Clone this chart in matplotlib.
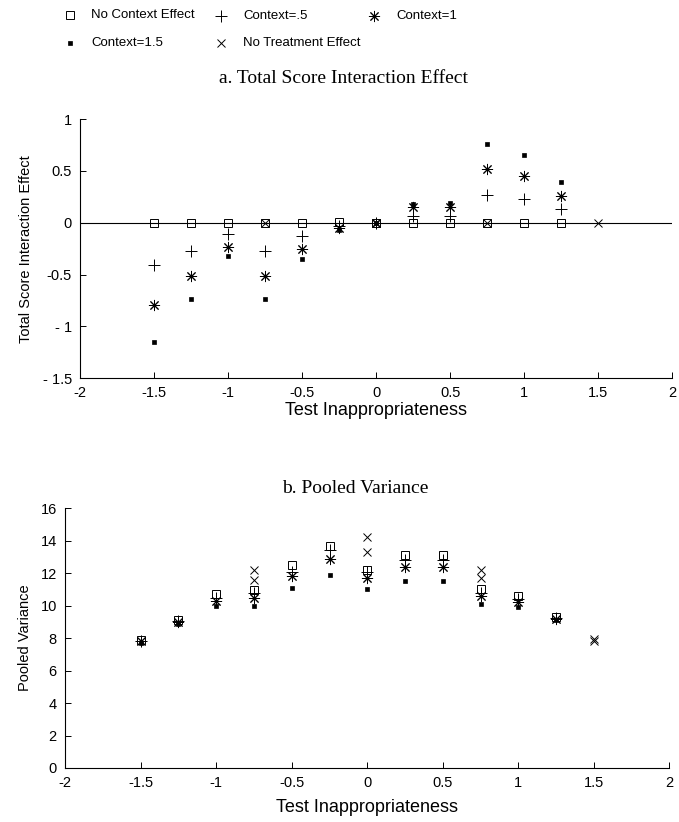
import matplotlib
matplotlib.use("Agg")
import matplotlib.pyplot as plt
from matplotlib.lines import Line2D
import numpy as np

plt.rcParams['font.family'] = ['Liberation Sans', 'DejaVu Sans']
plt.rcParams['axes.unicode_minus'] = False

# valores
test_x = [-1.5, -1.25, -1, -0.75, -0.5, -0.25, 0, 0.25, 0.5, 0.75, 1, 1.25]

# a. Total Score Interaction Effect
noctx_a = [0, 0, 0, 0, 0, 0.01, 0, 0, 0, 0, 0, 0]
ctx05_a = [-0.41, -0.27, -0.11, -0.27, -0.13, -0.03, 0, 0.07, 0.07, 0.27, 0.23, 0.13]
ctx1_a = [-0.79, -0.51, -0.23, -0.51, -0.25, -0.05, 0, 0.15, 0.15, 0.52, 0.45, 0.26]
ctx15_a = [-1.15, -0.74, -0.32, -0.74, -0.35, -0.07, 0, 0.18, 0.19, 0.76, 0.65, 0.39]
notreat_xa = [-0.75, 0, 0.75, 1.5]
notreat_a = [0, 0, 0, 0]

# b. Pooled Variance
noctx_b = [7.9, 9.1, 10.7, 10.95, 12.5, 13.7, 12.2, 13.1, 13.1, 11.0, 10.6, 9.3]
ctx05_b = [7.85, 9.05, 10.5, 10.8, 12.1, 13.4, 12.1, 12.8, 12.8, 10.8, 10.4, 9.25]
ctx1_b = [7.8, 9.0, 10.3, 10.5, 11.85, 12.9, 11.7, 12.4, 12.4, 10.6, 10.2, 9.2]
ctx15_b = [7.7, 8.9, 10.0, 10.0, 11.1, 11.9, 11.0, 11.5, 11.5, 10.1, 9.9, 9.1]
notreat_xb = [-0.75, -0.75, 0, 0, 0.75, 0.75, 1.5, 1.5]
notreat_b = [12.2, 11.6, 14.2, 13.3, 12.2, 11.7, 7.95, 7.85]

x_ticks = [-2, -1.5, -1, -0.5, 0, 0.5, 1, 1.5, 2]
x_labels = ['-2', '-1.5', '-1', '-0.5', '0', '0.5', '1', '1.5', '2']
ya_ticks = [-1.5, -1, -0.5, 0, 0.5, 1]
ya_labels = ['- 1.5', '- 1', '-0.5', '0', '0.5', '1']
yb_ticks = [0, 2, 4, 6, 8, 10, 12, 14, 16]

star = (8, 2, 0)
estilos = {
    'noctx': dict(marker='s', ms=6, mfc='none', mec='black', mew=0.7, ls='none'),
    'ctx05': dict(marker='+', ms=8, mec='black', mew=0.7, ls='none'),
    'ctx1': dict(marker=star, ms=8, mec='black', mew=0.7, ls='none'),
    'ctx15': dict(marker='s', ms=2.2, mfc='black', mec='black', mew=0.5, ls='none'),
    'notreat': dict(marker='x', ms=6, mec='black', mew=0.7, ls='none'),
}

W, H = 679, 822
fig = plt.figure(figsize=(6.79, 8.22), dpi=100)
ax1 = fig.add_axes([0.118, 0.540, 0.872, 0.315])
ax2 = fig.add_axes([0.096, 0.0657, 0.890, 0.316])


def estilo_eixo(ax):
    for s in ['top', 'right']:
        ax.spines[s].set_visible(False)
    for s in ['left', 'bottom']:
        ax.spines[s].set_linewidth(0.8)
    ax.tick_params(direction='in', length=4, width=0.7, labelsize=10.5, pad=6)
    ax.set_xlim(-2, 2)
    ax.set_xticks(x_ticks)
    ax.set_xticklabels(x_labels)


# painel a
ax1.axhline(0, color='black', lw=0.8, zorder=1)
ax1.plot(test_x, noctx_a, **estilos['noctx'])
ax1.plot(test_x, ctx05_a, **estilos['ctx05'])
ax1.plot(test_x, ctx1_a, **estilos['ctx1'])
ax1.plot(test_x, ctx15_a, **estilos['ctx15'])
ax1.plot(notreat_xa, notreat_a, **estilos['notreat'])
estilo_eixo(ax1)
ax1.set_xlabel('Test Inappropriateness', fontsize=13, labelpad=1)
ax1.set_ylim(-1.5, 1)
ax1.set_yticks(ya_ticks)
ax1.set_yticklabels(ya_labels)
ax1.set_ylabel('Total Score Interaction Effect', fontsize=10.5, labelpad=7)
ax1.set_title('a. Total Score Interaction Effect', family='Liberation Serif',
              fontsize=14, pad=26, x=0.445)

# painel b
ax2.plot(test_x, noctx_b, **estilos['noctx'])
ax2.plot(test_x, ctx05_b, **estilos['ctx05'])
ax2.plot(test_x, ctx1_b, **estilos['ctx1'])
ax2.plot(test_x, ctx15_b, **estilos['ctx15'])
ax2.plot(notreat_xb, notreat_b, **estilos['notreat'])
estilo_eixo(ax2)
ax2.set_xlabel('Test Inappropriateness', fontsize=13, labelpad=6)
ax2.set_ylim(0, 16)
ax2.set_yticks(yb_ticks)
ax2.set_ylabel('Pooled Variance', fontsize=10.5, labelpad=6)
ax2.set_title('b. Pooled Variance', family='Liberation Serif',
              fontsize=14, pad=11, x=0.48)

# legenda manual no topo (posicoes em pixels)
legenda = [
    ('noctx', 'No Context Effect', 70, 91, 15),
    ('ctx05', 'Context=.5', 221, 243, 16),
    ('ctx1', 'Context=1', 374, 396, 16),
    ('ctx15', 'Context=1.5', 70, 91, 43),
    ('notreat', 'No Treatment Effect', 221, 243, 43),
]
for chave, texto, mx, tx, py in legenda:
    fig.add_artist(Line2D([mx / W], [1 - py / H], transform=fig.transFigure,
                          **estilos[chave]))
    fig.text(tx / W, 1 - py / H, texto, fontsize=9.5, va='center', ha='left')

fig.savefig('out.png', dpi=100)
